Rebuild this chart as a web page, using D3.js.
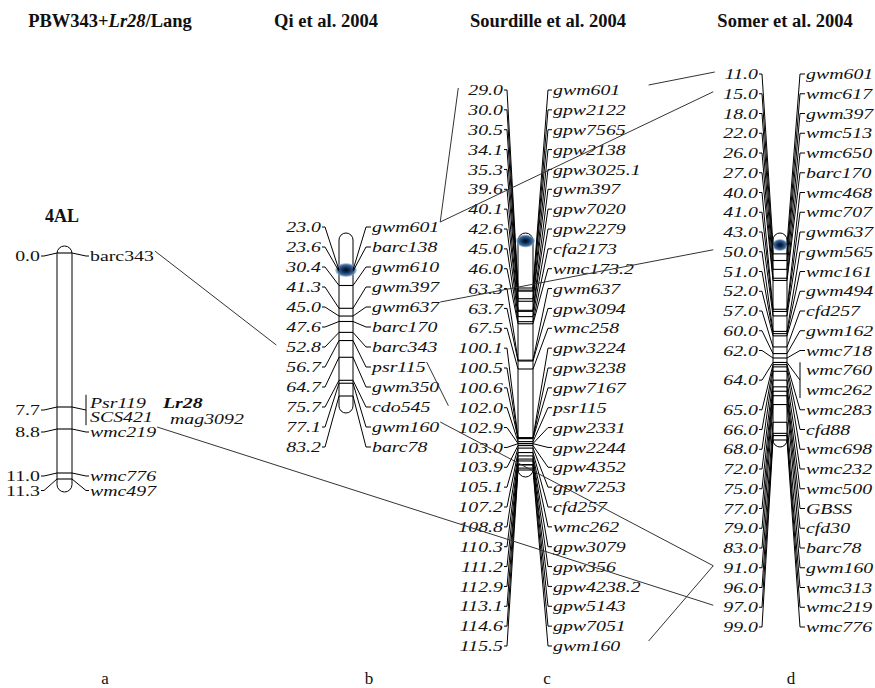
<!DOCTYPE html>
<html><head><meta charset="utf-8">
<script src="https://cdn.jsdelivr.net/npm/d3@7"></script>
<style>
body{margin:0;background:#fff}
text{font-family:"Liberation Serif","Times New Roman",serif;fill:#111}
</style>
</head><body>
<svg id="chart" width="875" height="688"></svg>
<script>
// ---------------- DATA ----------------
const panelTitles = ["PBW343+", "Lr28", "/Lang"]; // first title pieces
const studyTitles = ["Qi et al. 2004", "Sourdille et al. 2004", "Somer et al. 2004"];
const panelLetters = ["a", "b", "c", "d"];
const chromName = "4AL";
const geneLabels = ["Lr28", "mag3092"];

const aPositions = [0.0, 7.7, 7.7, 8.8, 11.0, 11.3];
const aMarkers = ["barc343", "Psr119", "SCS421", "wmc219", "wmc776", "wmc497"];

const bPositions = [23.0, 23.6, 30.4, 41.3, 45.0, 47.6, 52.8, 56.7, 64.7, 75.7, 77.1, 83.2];
const bMarkers = ["gwm601", "barc138", "gwm610", "gwm397", "gwm637", "barc170", "barc343", "psr115", "gwm350", "cdo545", "gwm160", "barc78"];

const cPositions = [29.0, 30.0, 30.5, 34.1, 35.3, 39.6, 40.1, 42.6, 45.0, 46.0, 63.3, 63.7, 67.5,
  100.1, 100.5, 100.6, 102.0, 102.9, 103.0, 103.9, 105.1, 107.2, 108.8, 110.3, 111.2, 112.9, 113.1, 114.6, 115.5];
const cMarkers = ["gwm601", "gpw2122", "gpw7565", "gpw2138", "gpw3025.1", "gwm397", "gpw7020", "gpw2279", "cfa2173", "wmc173.2",
  "gwm637", "gpw3094", "wmc258", "gpw3224", "gpw3238", "gpw7167", "psr115", "gpw2331", "gpw2244", "gpw4352", "gpw7253",
  "cfd257", "wmc262", "gpw3079", "gpw356", "gpw4238.2", "gpw5143", "gpw7051", "gwm160"];

const dPositions = [11, 15, 18, 22, 26, 27, 40, 41, 43, 50, 51, 52, 57, 60, 62, 64, 64, 65, 66, 68, 72, 75, 77, 79, 83, 91, 96, 97, 99];
const dMarkers = ["gwm601", "wmc617", "gwm397", "wmc513", "wmc650", "barc170", "wmc468", "wmc707", "gwm637", "gwm565", "wmc161",
  "gwm494", "cfd257", "gwm162", "wmc718", "wmc760", "wmc262", "wmc283", "cfd88", "wmc698", "wmc232", "wmc500", "GBSS",
  "cfd30", "barc78", "gwm160", "wmc313", "wmc219", "wmc776"];

// links between maps: [fromMap, fromMarker, toMap, toMarker]
const links = [
  ["a", "barc343", "b", "barc343"],
  ["a", "wmc219", "d", "wmc219"],
  ["b", "gwm601", "c", "gwm601"],
  ["b", "gwm601", "d", "wmc617"],
  ["b", "gwm637", "d", "gwm565"],
  ["b", "psr115", "c", "psr115"],
  ["b", "gwm160", "d", "gwm160"],
  ["c", "gwm601", "d", "gwm601"],
  ["c", "gwm160", "d", "gwm160"]
];

// ---------------- LAYOUT ----------------
const FS = 15.5, SX = 1.28;
const layout = {
  a: {barX: 57, barW: 15, barTop: 246, barBot: 492, bandRange: [253, 479], mode: "push",
      leftEnd: 40, rightStart: 90, tickGap: 4, numItalic: false, upright: new Set(["barc343"]), linkCol: false},
  b: {barX: 339, barW: 14, barTop: 233, barBot: 413, bandRange: [270, 396], mode: "even", labelRange: [227, 447],
      leftEnd: 321, rightStart: 372, tickGap: 6, cen: 270, cenR: [11, 7], numItalic: true, upright: new Set(), linkCol: false},
  c: {barX: 518, barW: 15, barTop: 233, barBot: 477, bandRange: [288, 470], mode: "even", labelRange: [90, 646],
      leftEnd: 503, rightStart: 553, tickGap: 5, cen: 241, cenR: [9.5, 6.5], numItalic: true, upright: new Set(), linkCol: true},
  d: {barX: 773, barW: 14, barTop: 233, barBot: 447, bandRange: [245, 440], mode: "even", labelRange: [74, 627],
      leftEnd: 758, rightStart: 806, tickGap: 6, cen: 245, cenR: [8, 6], numItalic: true, upright: new Set(), linkCol: false}
};
const mapData = {
  a: {pos: aPositions, names: aMarkers},
  b: {pos: bPositions, names: bMarkers},
  c: {pos: cPositions, names: cMarkers},
  d: {pos: dPositions, names: dMarkers}
};

const svg = d3.select("#chart");
const defs = svg.append("defs");
const grad = defs.append("radialGradient").attr("id", "cen");
grad.append("stop").attr("offset", "0%").attr("stop-color", "#000814");
grad.append("stop").attr("offset", "35%").attr("stop-color", "#10305a");
grad.append("stop").attr("offset", "75%").attr("stop-color", "#3f6c9e");
grad.append("stop").attr("offset", "100%").attr("stop-color", "#8fb0d4").attr("stop-opacity", 0.5);

function addText(g, x, y, str, o = {}) {
  return g.append("text")
    .attr("transform", `translate(${x},${y}) scale(${o.sx || SX},1)`)
    .attr("text-anchor", o.anchor || "start")
    .attr("dy", "0.33em")
    .style("font-size", (o.size || FS) + "px")
    .style("font-style", o.italic ? "italic" : "normal")
    .style("font-weight", o.bold ? "bold" : "normal")
    .text(str);
}

const fmt = d3.format(".1f");
const info = {};
const mapG = svg.append("g");

Object.keys(layout).forEach(id => {
  const L = layout[id], D = mapData[id];
  const n = D.pos.length;
  const band = d3.scaleLinear().domain(d3.extent(D.pos)).range(L.bandRange);
  const idx = d3.range(n);
  const groups = d3.groups(idx, i => D.pos[i]); // preserves order

  // right label y positions
  const ry = new Array(n);
  if (L.mode === "even") {
    const sp = d3.scalePoint().domain(idx).range(L.labelRange);
    idx.forEach(i => ry[i] = sp(i));
  } else {
    const gap = 14.5;
    let prev = -Infinity;
    groups.forEach(([p, members]) => {
      const c = band(p) + 3;
      let y0 = c - (members.length - 1) / 2 * gap;
      if (y0 < prev + gap) y0 = prev + gap;
      members.forEach((i, k) => ry[i] = y0 + k * gap);
      prev = ry[members[members.length - 1]];
    });
  }

  const g = mapG.append("g");
  const barR = L.barX + L.barW;

  // bar
  g.append("rect").attr("x", L.barX).attr("y", L.barTop).attr("width", L.barW)
    .attr("height", L.barBot - L.barTop).attr("rx", L.barW / 2).attr("ry", L.barW / 2)
    .attr("fill", "#fff").attr("stroke", "#000").attr("stroke-width", 1);

  // bands
  g.selectAll(".band").data(groups).join("line")
    .attr("x1", L.barX).attr("x2", barR)
    .attr("y1", d => band(d[0])).attr("y2", d => band(d[0]))
    .attr("stroke", "#000").attr("stroke-width", 1.1);

  // centromere
  if (L.cen !== undefined) {
    g.append("ellipse").attr("cx", L.barX + L.barW / 2).attr("cy", L.cen)
      .attr("rx", L.cenR[0]).attr("ry", L.cenR[1]).attr("fill", "url(#cen)");
  }

  info[id] = {left: {}, right: {}, colEnd: 0};

  // left connectors & labels (one per group)
  groups.forEach(([p, members]) => {
    const yl = d3.mean(members, i => ry[i]);
    const by = band(p);
    g.append("path")
      .attr("d", `M${L.leftEnd + 1},${yl} H${L.leftEnd + 4} L${L.barX},${by}`)
      .attr("fill", "none").attr("stroke", "#000").attr("stroke-width", 1);
    const t = addText(g, L.leftEnd, yl, fmt(p), {anchor: "end", italic: L.numItalic});
    const w = t.node().getComputedTextLength() * SX;
    members.forEach(i => info[id].left[D.names[i]] = {x0: L.leftEnd - w, x1: L.leftEnd, y: yl});
  });

  // right connectors & labels
  const tickX = L.rightStart - L.tickGap;
  groups.forEach(([p, members]) => {
    const by = band(p);
    if (members.length === 1) {
      const y = ry[members[0]];
      g.append("path").attr("d", `M${barR},${by} L${tickX},${y} H${L.rightStart - 1}`)
        .attr("fill", "none").attr("stroke", "#000").attr("stroke-width", 1);
    } else {
      const y0 = ry[members[0]], y1 = ry[members[members.length - 1]];
      const ym = (y0 + y1) / 2;
      g.append("path").attr("d", `M${barR},${by} L${tickX},${ym}`)
        .attr("fill", "none").attr("stroke", "#000").attr("stroke-width", 1);
      g.append("line").attr("x1", tickX).attr("x2", tickX).attr("y1", y0 - 8).attr("y2", y1 + 8)
        .attr("stroke", "#000").attr("stroke-width", 1);
    }
    members.forEach(i => {
      const name = D.names[i];
      const t = addText(g, L.rightStart, ry[i], name, {italic: !L.upright.has(name)});
      const w = t.node().getComputedTextLength() * SX;
      info[id].right[name] = {x0: L.rightStart, x1: L.rightStart + w, y: ry[i]};
      info[id].colEnd = Math.max(info[id].colEnd, L.rightStart + w);
    });
  });
});

// gene annotations next to map a
const aR = info.a.right;
addText(mapG, 163, aR["Psr119"].y, geneLabels[0], {italic: true, bold: true});
addText(mapG, 170, aR["SCS421"].y + 2, geneLabels[1], {italic: true});

// titles
const title0 = svg.append("text").attr("x", 110).attr("y", 27).attr("text-anchor", "middle")
  .style("font-size", "18.5px").style("font-weight", "bold");
title0.append("tspan").text(panelTitles[0]);
title0.append("tspan").style("font-style", "italic").text(panelTitles[1]);
title0.append("tspan").text(panelTitles[2]);
const titleX = [326, 548, 785];
studyTitles.forEach((s, i) => {
  svg.append("text").attr("x", titleX[i]).attr("y", 27).attr("text-anchor", "middle")
    .style("font-size", "18.5px").style("font-weight", "bold").text(s);
});
svg.append("text").attr("x", 62).attr("y", 222).attr("text-anchor", "middle")
  .style("font-size", "18px").style("font-weight", "bold").text(chromName);

// panel letters
const letterX = [105, 369, 547, 791];
panelLetters.forEach((l, i) => {
  svg.append("text").attr("x", letterX[i]).attr("y", 684).attr("text-anchor", "middle")
    .style("font-size", "17px").text(l);
});

// cross-map links
const linkG = svg.append("g");
links.forEach(([m1, n1, m2, n2]) => {
  const r = info[m1].right[n1], l = info[m2].left[n2];
  const x1 = layout[m1].linkCol ? info[m1].colEnd + 8 : r.x1 + 1;
  linkG.append("line")
    .attr("x1", x1).attr("y1", r.y - 5)
    .attr("x2", l.x0 - 10).attr("y2", l.y - 2)
    .attr("stroke", "#333").attr("stroke-width", 1);
});
</script>
</body></html>
